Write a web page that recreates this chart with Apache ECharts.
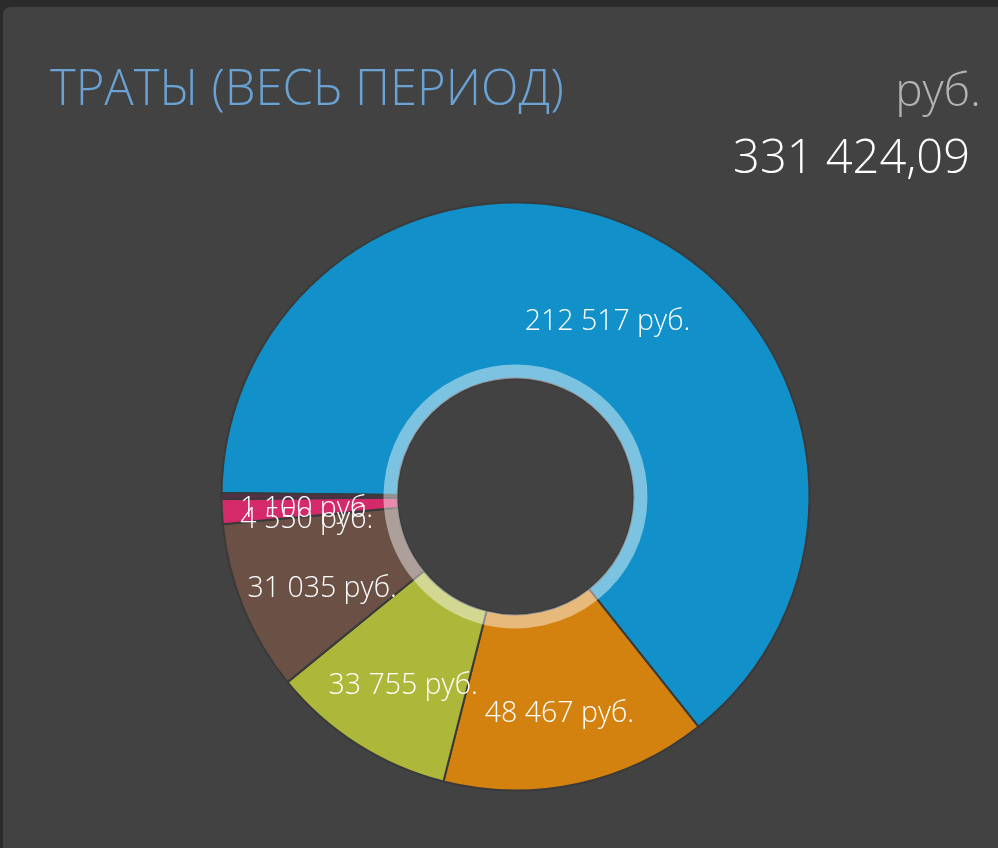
<!DOCTYPE html>
<html>
<head>
<meta charset="utf-8">
<script src="https://cdn.jsdelivr.net/npm/echarts@6/dist/echarts.min.js"></script>
<style>
  html, body { margin:0; padding:0; background:#2b2b2b; width:998px; height:848px; overflow:hidden; }
  #panel { position:absolute; left:3px; top:7px; width:995px; height:841px; background:#424242; border-top-left-radius:8px; }
  #chart { position:absolute; left:0; top:0; width:998px; height:848px; }
</style>
</head>
<body>
<div id="panel"></div>
<div id="chart"></div>
<script>
const titleText = 'ТРАТЫ (ВЕСЬ ПЕРИОД)';
const unitText = 'руб.';
const totalText = '331 424,09';
const categories = ['A', 'B', 'C', 'D', 'E', 'F'];
const values = [212517, 48467, 33755, 31035, 4550, 1100];
const colors = ['#1190c9', '#d4820f', '#adb83a', '#6b5045', '#d42a6a', '#553048'];

function fmt(v) {
  return String(v).replace(/\B(?=(\d{3})+(?!\d))/g, ' ') + ' руб.';
}

const FONT = "'Open Sans', 'Noto Sans', 'DejaVu Sans', sans-serif";
const mainData = categories.map((c, i) => ({ name: c, value: values[i], itemStyle: { color: colors[i] } }));
const ringData = categories.map((c, i) => ({ name: c, value: values[i] }));

const chart = echarts.init(document.getElementById('chart'), null, { renderer: 'canvas' });
chart.setOption({
  backgroundColor: 'transparent',
  animation: false,
  graphic: [
    { type: 'text', left: 50, top: 67, style: { text: titleText, fill: '#6aa2d4', font: '300 49px ' + FONT } },
    { type: 'text', right: 17, top: 70, style: { text: unitText, fill: '#b3b3b3', font: '300 46px ' + FONT, textAlign: 'right' } },
    { type: 'text', right: 28, top: 136, style: { text: totalText, fill: '#ffffff', font: '300 47px ' + FONT, textAlign: 'right' } }
  ],
  series: [
    {
      type: 'pie',
      center: [515.5, 496.5],
      radius: [118, 294],
      startAngle: 179.3,
      clockwise: true,
      avoidLabelOverlap: false,
      minShowLabelAngle: 0,
      labelLayout: { hideOverlap: false },
      silent: true,
      itemStyle: { borderColor: '#3a3a3a', borderWidth: 2 },
      label: {
        show: true,
        position: 'inside',
        color: '#ffffff',
        fontFamily: FONT,
        fontWeight: 300,
        fontSize: 28.5,
        lineHeight: 26,
        formatter: p => '\n' + fmt(p.value)
      },
      labelLine: { show: false },
      data: mainData,
      z: 2
    },
    {
      type: 'pie',
      center: [515.5, 496.5],
      radius: [118, 132],
      startAngle: 179.3,
      clockwise: true,
      silent: true,
      itemStyle: { color: 'rgba(255,255,255,0.45)', borderWidth: 0 },
      label: { show: false },
      labelLine: { show: false },
      data: ringData,
      z: 3
    }
  ]
});
</script>
</body>
</html>
